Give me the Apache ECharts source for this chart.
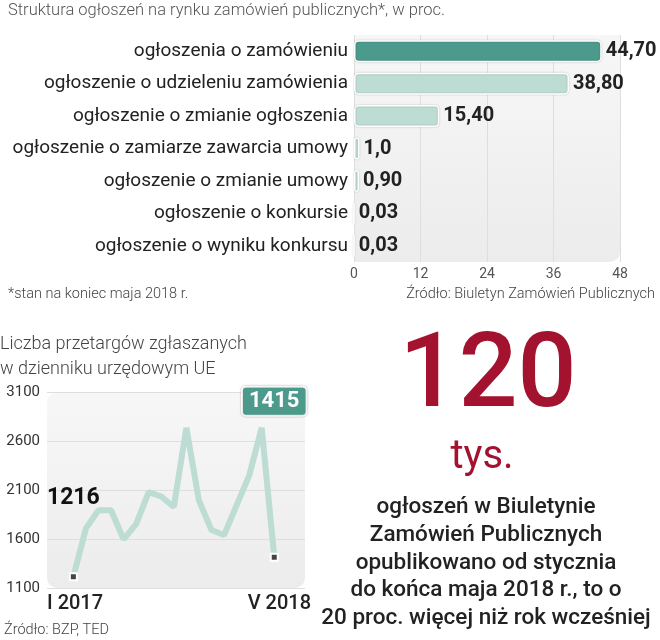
<!DOCTYPE html>
<html>
<head>
<meta charset="utf-8">
<script src="https://cdn.jsdelivr.net/npm/echarts@6/dist/echarts.min.js"></script>
<style>
html,body{margin:0;padding:0;background:#fff;}
#c{width:660px;height:640px;}
</style>
</head>
<body>
<div id="c"></div>
<script>
// ---- data ----
const barCategories = [
  "ogłoszenia o zamówieniu",
  "ogłoszenie o udzieleniu zamówienia",
  "ogłoszenie o zmianie ogłoszenia",
  "ogłoszenie o zamiarze zawarcia umowy",
  "ogłoszenie o zmianie umowy",
  "ogłoszenie o konkursie",
  "ogłoszenie o wyniku konkursu"
];
const barValues = [44.70, 38.80, 15.40, 1.0, 0.90, 0.03, 0.03];
const barLabels = ["44,70", "38,80", "15,40", "1,0", "0,90", "0,03", "0,03"];
const barTicks = [0, 12, 24, 36, 48];

const lineValues = [1216, 1708, 1893, 1893, 1597, 1751, 2078, 2034, 1926, 2734, 1994, 1691, 1640, 1943, 2246, 2734, 1415];
const lineXLabels = ["I 2017", "V 2018"];
const lineYTicks = [1100, 1600, 2100, 2600, 3100];

const FONT = "Roboto, 'Noto Sans', sans-serif";
const TEAL = "#4b9a8b";
const LIGHT = "#bddcd3";
const RED = "#a3122f";

const chart = echarts.init(document.getElementById('c'));

const barData = barValues.map((v, i) => ({
  value: v,
  itemStyle: { color: i === 0 ? TEAL : LIGHT }
}));

const lineData = lineValues.map((v, i) => {
  const item = { value: [i, v] };
  const last = lineValues.length - 1;
  if (i === 0) {
    item.symbol = 'rect'; item.symbolSize = 7;
    item.itemStyle = { color: '#444', borderColor: '#fff', borderWidth: 2 };
    item.label = {
      show: true, position: 'top', distance: 62,
      formatter: String(v), fontFamily: FONT, fontSize: 23, fontWeight: 'bold', color: '#111'
    };
  } else if (i === last) {
    item.symbol = 'rect'; item.symbolSize = 7;
    item.itemStyle = { color: '#444', borderColor: '#fff', borderWidth: 2 };
    item.label = {
      show: true, position: 'top', distance: 138,
      formatter: String(v), fontFamily: FONT, fontSize: 22, fontWeight: 'bold', color: '#fff',
      backgroundColor: TEAL, borderColor: '#fff', borderWidth: 2, borderRadius: 3,
      padding: [3, 6, 2, 6], shadowColor: 'rgba(0,0,0,0.35)', shadowBlur: 2
    };
  }
  return item;
});

const bgFill = new echarts.graphic.LinearGradient(0, 0, 0, 1, [
  { offset: 0, color: '#f7f7f7' },
  { offset: 1, color: '#ececec' }
]);

const option = {
  animation: false,
  textStyle: { fontFamily: FONT },
  grid: [
    { left: 354, right: 40, top: 35, bottom: 378 },
    { left: 47, right: 355, top: 392, bottom: 52 }
  ],
  xAxis: [
    {
      gridIndex: 0, type: 'value', min: barTicks[0], max: barTicks[barTicks.length - 1], interval: 12,
      axisLine: { show: false }, axisTick: { show: false },
      axisLabel: { color: '#555', fontSize: 14, margin: 5, fontFamily: FONT },
      splitLine: { show: true, lineStyle: { color: '#dedede', width: 1 } }
    },
    {
      gridIndex: 1, type: 'value', min: -2.1, max: 18.45,
      axisLine: { show: false }, axisTick: { show: false }, axisLabel: { show: false },
      splitLine: { show: false }
    }
  ],
  yAxis: [
    {
      gridIndex: 0, type: 'category', data: barCategories, inverse: true,
      axisLine: { show: false }, axisTick: { show: false },
      axisLabel: { color: '#222', fontSize: 19, margin: 6, fontFamily: FONT }
    },
    {
      gridIndex: 1, type: 'value', min: lineYTicks[0], max: lineYTicks[lineYTicks.length - 1], interval: 500,
      axisLine: { show: false }, axisTick: { show: false },
      axisLabel: { color: '#333', fontSize: 15, margin: 7, fontFamily: FONT, formatter: v => String(v) },
      splitLine: { show: true, lineStyle: { color: '#dedede', width: 1 } }
    }
  ],
  graphic: [
    { type: 'rect', z: -10, shape: { x: 354, y: 35, width: 266, height: 227, r: [0, 0, 10, 0] }, style: { fill: bgFill } },
    { type: 'rect', z: -10, shape: { x: 47, y: 392, width: 258, height: 196, r: 10 }, style: { fill: bgFill } },
    { type: 'text', left: 8, top: 2, style: { text: "Struktura ogłoszeń na rynku zamówień publicznych*, w proc.", font: "300 16.5px " + FONT, fill: '#555' } },
    { type: 'text', left: 8, top: 287, style: { text: "*stan na koniec maja 2018 r.", font: "300 14.5px " + FONT, fill: '#444' } },
    { type: 'text', right: 5, top: 287, style: { text: "Źródło: Biuletyn Zamówień Publicznych", font: "300 14.5px " + FONT, fill: '#444', align: 'right' } },
    { type: 'text', left: 0, top: 332, style: { text: "Liczba przetargów zgłaszanych\nw dzienniku urzędowym UE", font: "300 18px " + FONT, fill: '#444', lineHeight: 25 } },
    { type: 'text', left: 47, top: 594, style: { text: lineXLabels[0], font: "500 20px " + FONT, fill: '#222' } },
    { type: 'text', right: 349, top: 594, style: { text: lineXLabels[1], font: "500 20px " + FONT, fill: '#222', align: 'right' } },
    { type: 'text', left: 4, top: 623, style: { text: "Źródło: BZP, TED", font: "300 14.5px " + FONT, fill: '#444' } },
    { type: 'text', x: 488, y: 328, style: { text: "120", font: "500 104px " + FONT, fill: RED, align: 'center', verticalAlign: 'top' } },
    { type: 'text', x: 482, y: 438, style: { text: "tys.", font: "400 40px " + FONT, fill: RED, align: 'center', verticalAlign: 'top' } },
    { type: 'text', x: 486, y: 494, style: {
        text: "ogłoszeń w Biuletynie\nZamówień Publicznych\nopublikowano od stycznia\ndo końca maja 2018 r., to o\n20 proc. więcej niż rok wcześniej",
        font: "500 22.5px " + FONT, fill: '#222', align: 'center', verticalAlign: 'top', lineHeight: 27.6 } }
  ],
  series: [
    {
      type: 'bar', xAxisIndex: 0, yAxisIndex: 0, data: barData, barWidth: 22,
      itemStyle: { borderRadius: 4, borderColor: '#fff', borderWidth: 1.5, shadowColor: 'rgba(0,0,0,0.18)', shadowBlur: 2 },
      label: {
        show: true, position: 'right', distance: 4,
        formatter: p => barLabels[p.dataIndex],
        fontFamily: FONT, fontSize: 20, fontWeight: 'bold', color: '#222'
      }
    },
    {
      type: 'line', xAxisIndex: 1, yAxisIndex: 1, data: lineData,
      showSymbol: true, symbol: 'none',
      lineStyle: { color: LIGHT, width: 6 },
      z: 3
    }
  ]
};
chart.setOption(option);
</script>
</body>
</html>
